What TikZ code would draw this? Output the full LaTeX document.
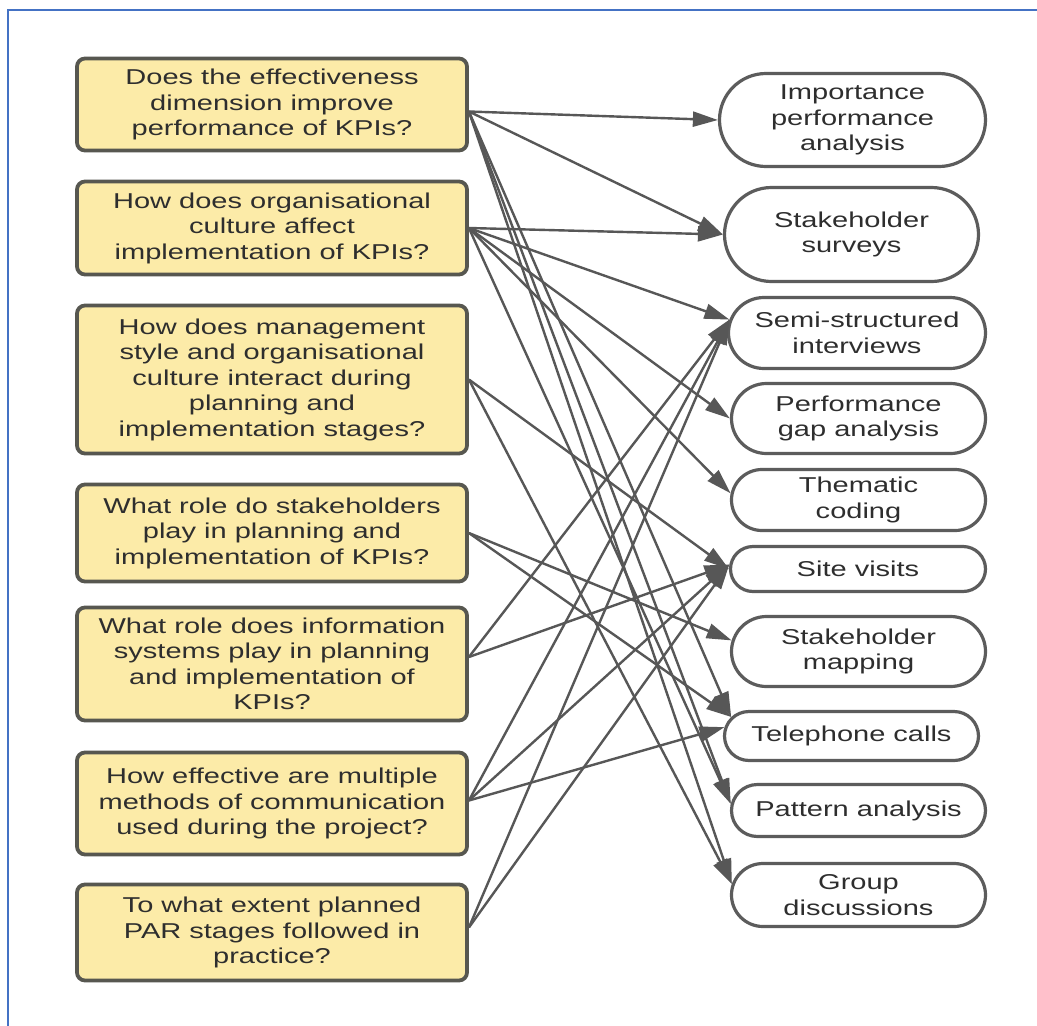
\documentclass[tikz,border=0pt]{standalone}
\usepackage{fontspec}
\setmainfont{Liberation Sans}[FakeStretch=1.35]
\usetikzlibrary{arrows.meta,shapes.misc}

\definecolor{qfill}{HTML}{FCEBA8}
\definecolor{qline}{HTML}{575750}
\definecolor{mline}{HTML}{5C5C5C}
\definecolor{edgegray}{HTML}{575757}
\definecolor{txtgray}{HTML}{2E2E2E}
\definecolor{frameblue}{HTML}{4472C4}

\begin{document}
\begin{tikzpicture}[x=1pt,y=-1pt,
  question/.style={draw=qline, line width=3.8pt, fill=qfill, rounded corners=8pt,
    minimum width=390pt, align=center, inner sep=0pt,
    font=\fontsize{21.5pt}{25.5pt}\selectfont, text=txtgray},
  method/.style={rounded rectangle, draw=mline, line width=3.2pt, fill=white,
    align=center, inner sep=0pt,
    font=\fontsize{21.5pt}{25.5pt}\selectfont, text=txtgray},
  link/.style={draw=edgegray, line width=2.4pt, -{Triangle[length=25pt,width=15pt]}}
]
\useasboundingbox (0,0) rectangle (1037,1026);
\fill[white] (0,0) rectangle (1037,1026);

% page frame
\draw[frameblue, line width=2pt] (8,1026) -- (8,10) -- (1037,10);

% research questions
\node[question, minimum height=92pt]  (q1) at (272,104.5) {Does the effectiveness\\dimension improve\\performance of KPIs?};
\node[question, minimum height=93pt]  (q2) at (272,228)   {How does organisational\\culture affect\\implementation of KPIs?};
\node[question, minimum height=148pt] (q3) at (272,379.5) {How does management\\style and organisational\\culture interact during\\planning and\\implementation stages?};
\node[question, minimum height=97pt]  (q4) at (272,533)   {What role do stakeholders\\play in planning and\\implementation of KPIs?};
\node[question, minimum height=113pt] (q5) at (272,664)   {What role does information\\systems play in planning\\and implementation of\\KPIs?};
\node[question, minimum height=102pt] (q6) at (272,803.5) {How effective are multiple\\methods of communication\\used during the project?};
\node[question, minimum height=96pt]  (q7) at (272,932.5) {To what extent planned\\PAR stages followed in\\practice?};

% methods
\node[method, minimum width=266pt, minimum height=93pt] (imp)  at (852.5,120)   {Importance\\performance\\analysis};
\node[method, minimum width=254pt, minimum height=94pt] (sur)  at (851.5,234.5) {Stakeholder\\surveys};
\node[method, minimum width=257pt, minimum height=71pt] (semi) at (857,333)     {Semi-structured\\interviews};
\node[method, minimum width=254pt, minimum height=70pt] (gap)  at (858.5,418.5) {Performance\\gap analysis};
\node[method, minimum width=254pt, minimum height=61pt] (them) at (858.5,500)   {Thematic\\coding};
\node[method, minimum width=255pt, minimum height=45pt] (site) at (858,569)     {Site visits};
\node[method, minimum width=254pt, minimum height=70pt] (map)  at (858.5,651.5) {Stakeholder\\mapping};
\node[method, minimum width=254pt, minimum height=49pt] (tel)  at (851.5,736)   {Telephone calls};
\node[method, minimum width=254pt, minimum height=52pt] (pat)  at (858.5,810.5) {Pattern analysis};
\node[method, minimum width=254pt, minimum height=63pt] (grp)  at (858.5,895)   {Group\\discussions};

% links from questions to methods
\draw[link] ([yshift=-7pt]q1.east) -- (imp.west);
\draw[link] ([yshift=-7pt]q1.east) -- (sur.west);
\draw[link] ([yshift=-7pt]q1.east) -- (tel.171);
\draw[link] ([yshift=-7pt]q1.east) -- (pat.177);
\draw[link] ([yshift=-7pt]q1.east) -- (grp.175);

\draw[link] (q2.east) -- (sur.west);
\draw[link] (q2.east) -- (semi.174);
\draw[link] (q2.east) -- (gap.west);
\draw[link] (q2.east) -- (them.177);
\draw[link] (q2.east) -- (pat.177);

\draw[link] (q3.east) -- (site.west);
\draw[link] (q3.east) -- (grp.175);

\draw[link] (q4.east) -- (map.175);
\draw[link] (q4.east) -- (tel.171);

\draw[link] ([yshift=7pt]q5.east) -- (semi.174);
\draw[link] ([yshift=7pt]q5.east) -- (site.178);

\draw[link] ([yshift=3pt]q6.east) -- (semi.174);
\draw[link] ([yshift=3pt]q6.east) -- (site.178);
\draw[link] ([yshift=3pt]q6.east) -- (tel.176);

\draw[link] ([yshift=5pt]q7.east) -- (semi.174);
\draw[link] ([yshift=5pt]q7.east) -- (site.178);
\end{tikzpicture}
\end{document}
